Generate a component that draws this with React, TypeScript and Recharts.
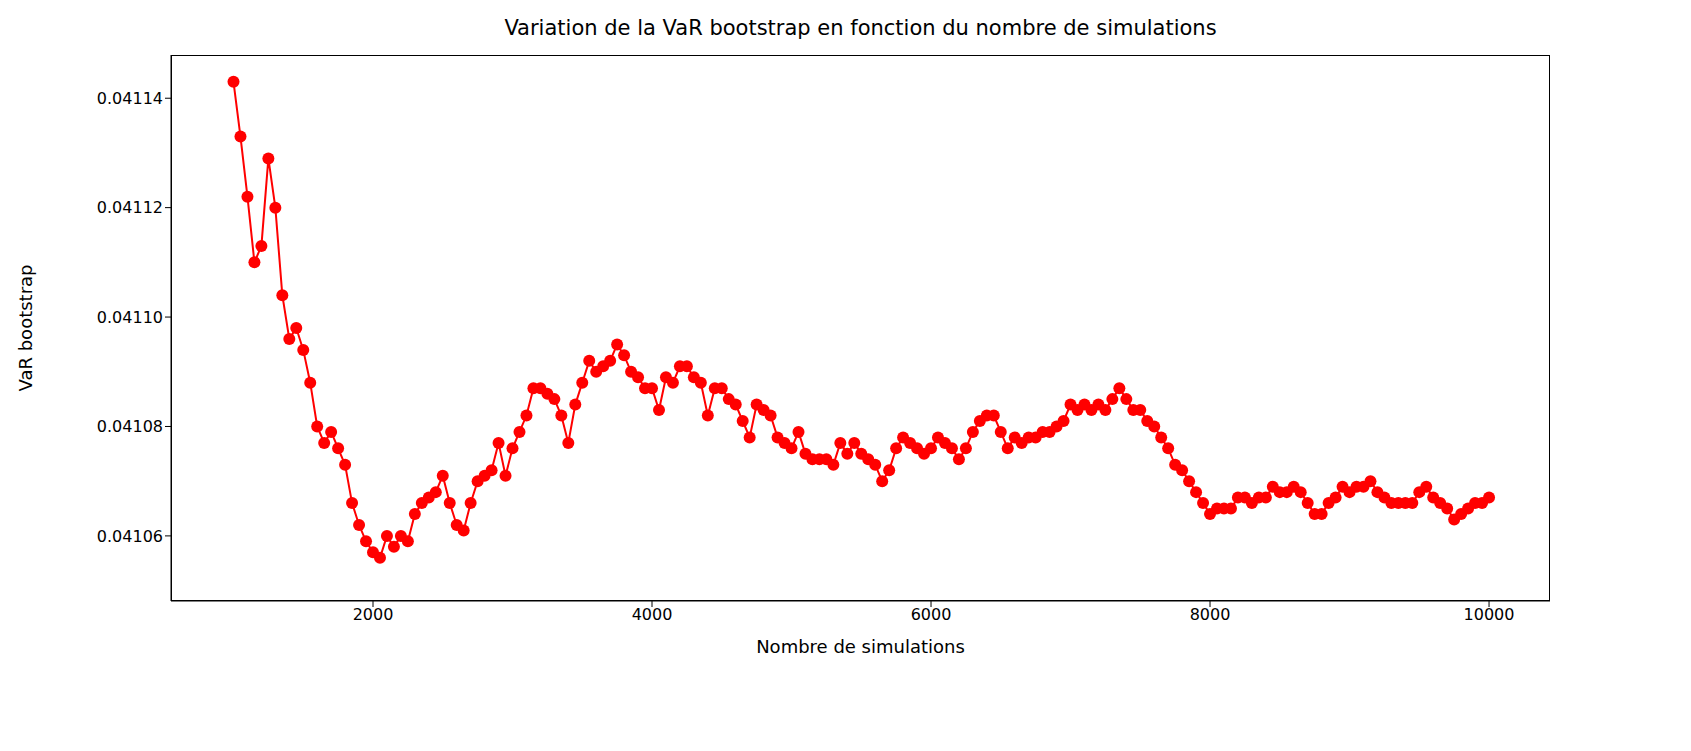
import React from 'react';
import { LineChart, Line, XAxis, YAxis, Label } from 'recharts';

const simulations: number[] = [];
for (let s = 1000; s <= 10000; s += 50) simulations.push(s);

const varValues = [
0.041143,0.041133,0.041122,0.041110,0.041113,0.041129,0.041120,0.041104,0.041096,0.041098,
0.041094,0.041088,0.041080,0.041077,0.041079,0.041076,0.041073,0.041066,0.041062,0.041059,
0.041057,0.041056,0.041060,0.041058,0.041060,0.041059,0.041064,0.041066,0.041067,0.041068,
0.041071,0.041066,0.041062,0.041061,0.041066,0.041070,0.041071,0.041072,0.041077,0.041071,
0.041076,0.041079,0.041082,0.041087,0.041087,0.041086,0.041085,0.041082,0.041077,0.041084,
0.041088,0.041092,0.041090,0.041091,0.041092,0.041095,0.041093,0.041090,0.041089,0.041087,
0.041087,0.041083,0.041089,0.041088,0.041091,0.041091,0.041089,0.041088,0.041082,0.041087,
0.041087,0.041085,0.041084,0.041081,0.041078,0.041084,0.041083,0.041082,0.041078,0.041077,
0.041076,0.041079,0.041075,0.041074,0.041074,0.041074,0.041073,0.041077,0.041075,0.041077,
0.041075,0.041074,0.041073,0.041070,0.041072,0.041076,0.041078,0.041077,0.041076,0.041075,
0.041076,0.041078,0.041077,0.041076,0.041074,0.041076,0.041079,0.041081,0.041082,0.041082,
0.041079,0.041076,0.041078,0.041077,0.041078,0.041078,0.041079,0.041079,0.041080,0.041081,
0.041084,0.041083,0.041084,0.041083,0.041084,0.041083,0.041085,0.041087,0.041085,0.041083,
0.041083,0.041081,0.041080,0.041078,0.041076,0.041073,0.041072,0.041070,0.041068,0.041066,
0.041064,0.041065,0.041065,0.041065,0.041067,0.041067,0.041066,0.041067,0.041067,0.041069,
0.041068,0.041068,0.041069,0.041068,0.041066,0.041064,0.041064,0.041066,0.041067,0.041069,
0.041068,0.041069,0.041069,0.041070,0.041068,0.041067,0.041066,0.041066,0.041066,0.041066,
0.041068,0.041069,0.041067,0.041066,0.041065,0.041063,0.041064,0.041065,0.041066,0.041066,
0.041067];

const xTicks = [2000, 4000, 6000, 8000, 10000];
const yTicks = [0.04106, 0.04108, 0.0411, 0.04112, 0.04114];

const data = simulations.map((s, i) => ({ s, v: varValues[i] }));
const font = 'DejaVu Sans';
const tickStyle = { fontSize: 16, fill: '#000', fontFamily: font };

export default function App() {
  return (
    <div style={{ position: 'absolute', left: 0, top: 0, width: 1691, height: 751, background: '#fff' }}>
      <div style={{ position: 'absolute', top: 16, left: 171, width: 1379, textAlign: 'center', fontFamily: font, fontSize: 21 }}>
        Variation de la VaR bootstrap en fonction du nombre de simulations
      </div>
      <LineChart width={1691} height={751} data={data} margin={{ top: 55, right: 141, left: 71, bottom: 100 }}>
        <XAxis dataKey="s" type="number" domain={[552, 10437]} ticks={xTicks} tick={tickStyle}
          stroke="#000" tickSize={6} height={50} allowDataOverflow>
          <Label value="Nombre de simulations" position="insideBottom" offset={-2} style={{ fontSize: 18, fill: '#000', fontFamily: font }} />
        </XAxis>
        <YAxis type="number" domain={[0.0410481, 0.0411479]} ticks={yTicks} tick={tickStyle}
          tickFormatter={(v: number) => v.toFixed(5)} stroke="#000" tickSize={6} width={100} allowDataOverflow>
          <Label value="VaR bootstrap" angle={-90} position="insideLeft" offset={-45} style={{ fontSize: 18, fill: '#000', fontFamily: font, textAnchor: 'middle' }} />
        </YAxis>
        <Line dataKey="v" stroke="#ff0000" strokeWidth={2} isAnimationActive={false}
          dot={{ r: 6, fill: '#ff0000', stroke: '#ff0000', strokeWidth: 0 }} />
      </LineChart>
      <div style={{ position: 'absolute', left: 171, top: 55, width: 1379, height: 546, border: '1px solid #000', boxSizing: 'border-box', pointerEvents: 'none' }} />
    </div>
  );
}
